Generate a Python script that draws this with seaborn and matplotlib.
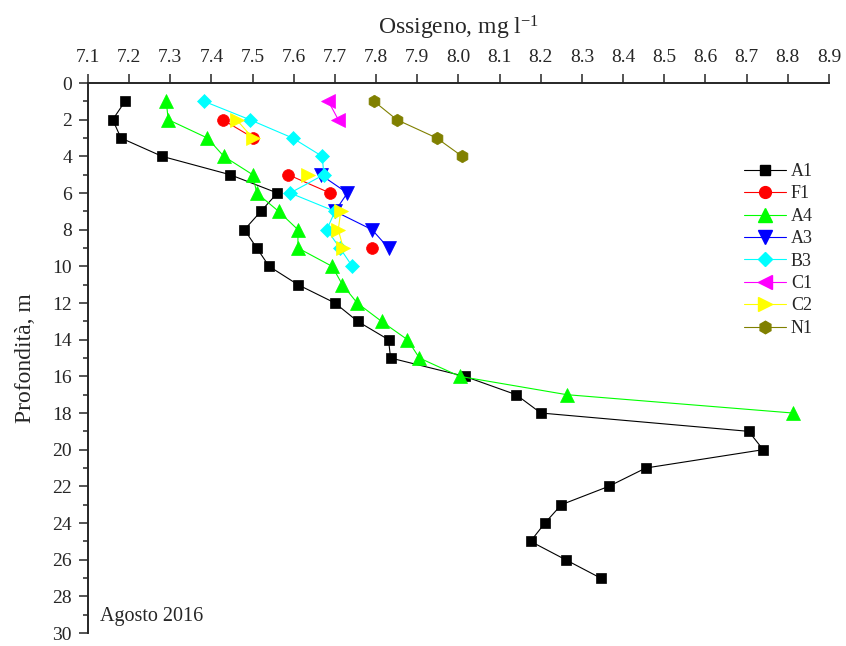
import numpy as np
import pandas as pd
import matplotlib.pyplot as plt
from matplotlib.lines import Line2D
from matplotlib.ticker import MultipleLocator, FixedLocator
import seaborn as sns

# profondita (m) e ossigeno disciolto (mg/l) per stazione, nan = dato mancante
a1_depth = list(range(1, 28))
a1_o2 = [7.19, 7.16, 7.18, 7.28, 7.445, 7.56, 7.52, 7.48, 7.51, 7.54, 7.61, 7.70,
         7.755, 7.83, 7.835, 8.015, 8.14, 8.20, 8.705, 8.74, 8.455, 8.365, 8.25,
         8.21, 8.175, 8.26, 8.345]

f1_depth = list(range(2, 10))
f1_o2 = [7.427, 7.502, np.nan, 7.586, 7.688, np.nan, np.nan, 7.79]

a4_depth = list(range(1, 19))
a4_o2 = [7.29, 7.295, 7.39, 7.43, 7.50, 7.51, 7.563, 7.61, 7.61, 7.693, 7.718,
         7.754, 7.813, 7.876, 7.905, 8.003, 8.263, 8.812]

a3_depth = list(range(5, 10))
a3_o2 = [7.665, 7.73, 7.70, 7.79, 7.83]

b3_depth = list(range(1, 11))
b3_o2 = [7.382, 7.493, 7.597, 7.669, 7.673, 7.591, 7.70, 7.68, 7.712, 7.742]

c1_depth = [1, 2]
c1_o2 = [7.684, 7.708]

c2_depth = list(range(2, 10))
c2_o2 = [7.461, 7.50, np.nan, 7.635, np.nan, 7.714, 7.708, 7.72]

n1_depth = list(range(1, 5))
n1_o2 = [7.795, 7.85, 7.947, 8.009]

stations = [
    ("A1", a1_depth, a1_o2),
    ("F1", f1_depth, f1_o2),
    ("A4", a4_depth, a4_o2),
    ("A3", a3_depth, a3_o2),
    ("B3", b3_depth, b3_o2),
    ("C1", c1_depth, c1_o2),
    ("C2", c2_depth, c2_o2),
    ("N1", n1_depth, n1_o2),
]

# colore, marker, dimensione (stile Origin)
styles = {
    "A1": ("#000000", "s", 7.5),
    "F1": ("#ff0000", "o", 8.5),
    "A4": ("#00ff00", "^", 9.5),
    "A3": ("#0000ff", "v", 9.5),
    "B3": ("#00ffff", "D", 7.5),
    "C1": ("#ff00ff", "<", 9.5),
    "C2": ("#ffff00", ">", 9.5),
    "N1": ("#808000", "h", 9),
}


def to_frame(name, depth, o2):
    df = pd.DataFrame({"depth": depth, "o2": o2})
    # la linea si interrompe dove manca un dato
    df["seg"] = df["o2"].isna().cumsum()
    df["station"] = name
    return df.dropna()


sns.set_style("ticks")
plt.rcParams["font.family"] = ["Liberation Serif", "DejaVu Serif"]
plt.rcParams["mathtext.fontset"] = "custom"
plt.rcParams["mathtext.rm"] = "Liberation Serif"
plt.rcParams["mathtext.it"] = "Liberation Serif:italic"
plt.rcParams["mathtext.default"] = "regular"

fig = plt.figure(figsize=(8.46, 6.46), dpi=100)
ax = fig.add_axes([0.104, 0.0201, 0.8759, 0.8514])

handles = []
for name, depth, o2 in stations:
    color, marker, ms = styles[name]
    df = to_frame(name, depth, o2)
    sns.lineplot(data=df, x="o2", y="depth", units="seg", estimator=None,
                 sort=False, color=color, marker=marker, markersize=ms,
                 markeredgecolor=color, markeredgewidth=0.5, linewidth=0.8,
                 legend=False, ax=ax)
    handles.append(Line2D([], [], color=color, marker=marker, markersize=ms,
                          markeredgecolor=color, linewidth=0.8, label=name))

ax.set_xlim(7.1, 8.9)
ax.set_ylim(30, 0)

ax.xaxis.tick_top()
ax.xaxis.set_label_position("top")
ax.xaxis.set_major_locator(FixedLocator(np.round(np.arange(7.1, 8.95, 0.1), 1)))
ax.xaxis.set_major_formatter(plt.FormatStrFormatter("%.1f"))
ax.yaxis.set_major_locator(MultipleLocator(2))
ax.yaxis.set_minor_locator(MultipleLocator(1))

ax.spines["right"].set_visible(False)
ax.spines["bottom"].set_visible(False)
ax.spines["left"].set_linewidth(1.4)
ax.spines["top"].set_linewidth(1.4)

ax.tick_params(axis="x", which="major", direction="out", length=6.5, width=1.1,
               labelsize=14, pad=6, top=True, bottom=False)
ax.tick_params(axis="y", which="major", direction="out", length=6.5, width=1.1,
               labelsize=14, pad=5)
ax.tick_params(axis="y", which="minor", direction="out", length=3.5, width=1.1)

ax.set_xlabel("Ossigeno, mg l$^{-1}$", fontsize=17, labelpad=10)
ax.set_ylabel("Profondità, m", fontsize=17, labelpad=12)

ax.text(0.016, 0.03, "Agosto 2016", transform=ax.transAxes, fontsize=14.5,
        ha="left", va="center")

ax.legend(handles=handles, loc="upper left", bbox_to_anchor=(744 / 846, 1 - 163 / 646),
          bbox_transform=fig.transFigure, frameon=False, fontsize=13,
          handlelength=2.3, handletextpad=0.3, labelspacing=0.3, borderpad=0,
          borderaxespad=0, numpoints=1)

fig.savefig("out.png", dpi=100)
